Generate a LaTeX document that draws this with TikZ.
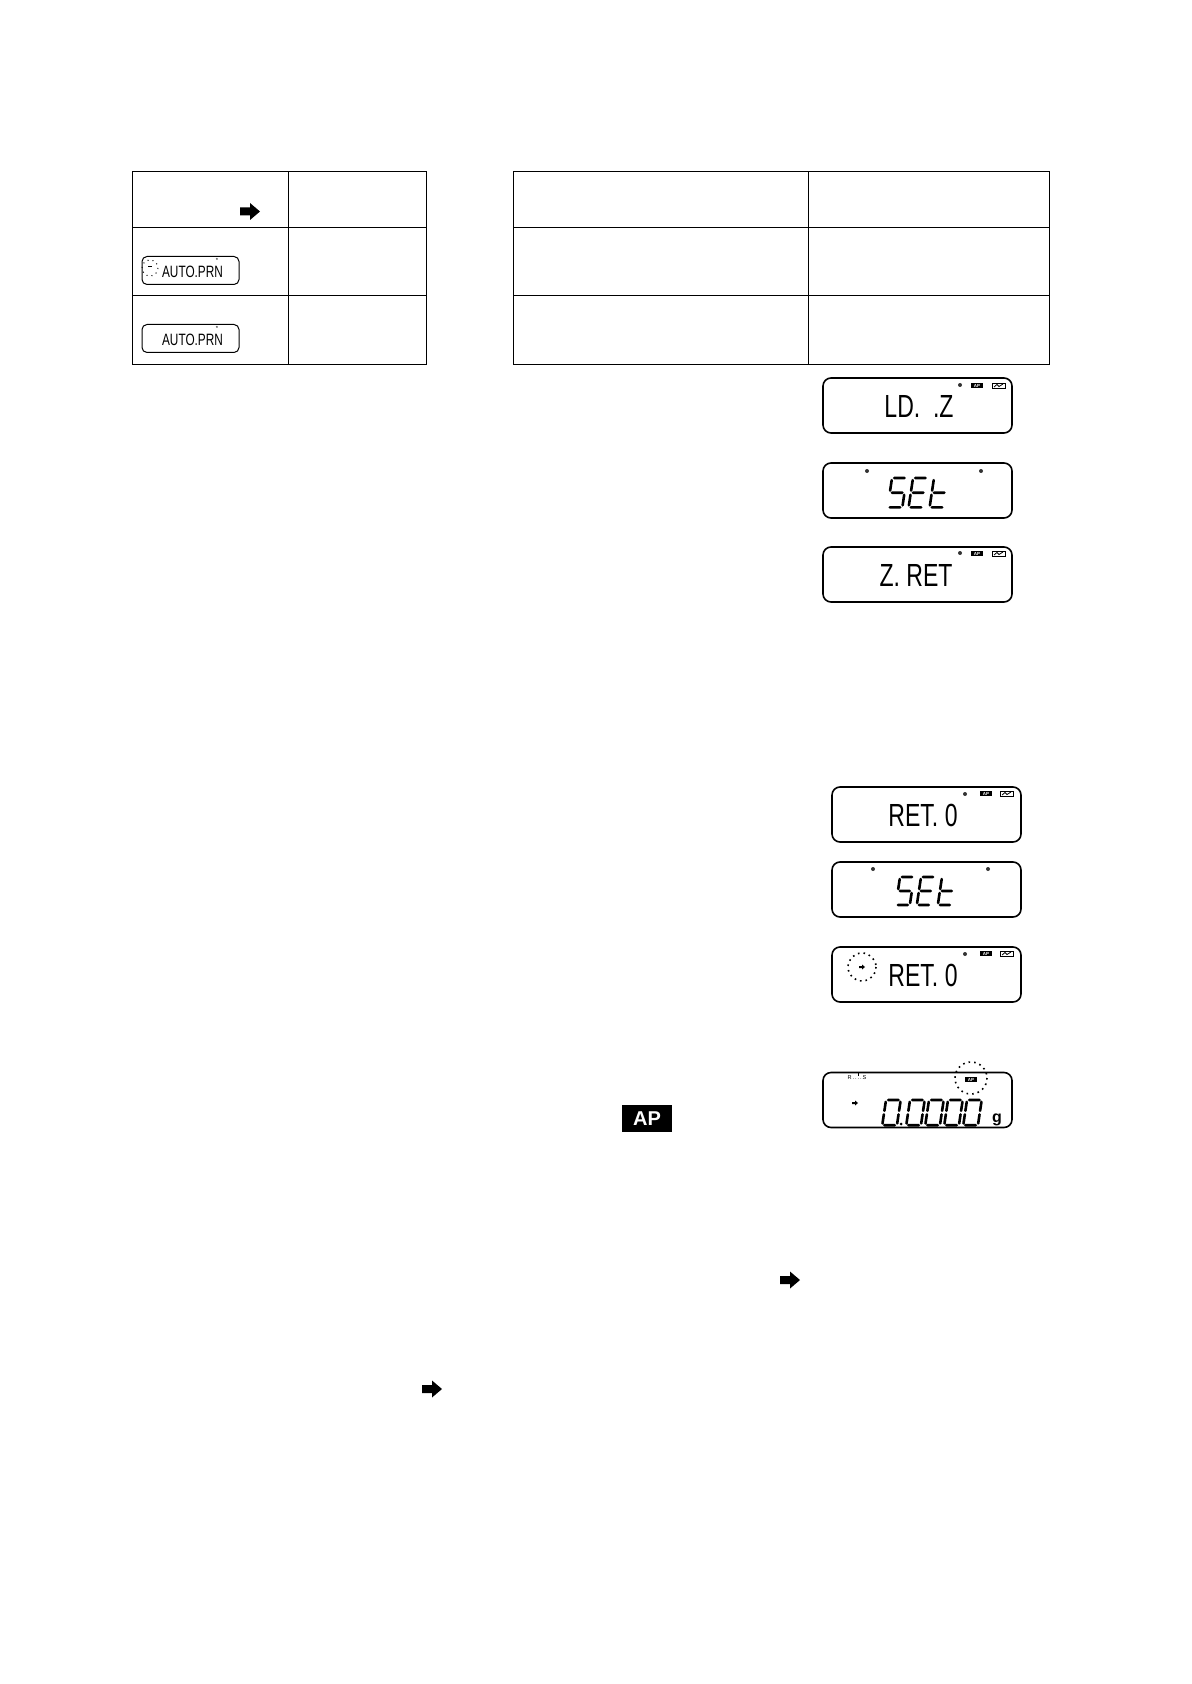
\documentclass[tikz,border=0pt]{standalone}
\usepackage{fontspec}
\setmainfont{Liberation Sans}
\newfontfamily\dispfont[FakeStretch=0.72]{Liberation Sans}
\tikzset{
  tline/.style={line width=0.5pt},
  lcd/.style={draw, rounded corners=4pt, line width=0.8pt, minimum width=94.5pt, minimum height=27.5pt, inner sep=0pt},
  smlcd/.style={draw, rounded corners=2.5pt, line width=0.5pt, minimum width=48.5pt, minimum height=14pt, inner sep=0pt},
  bigtxt/.style={font=\dispfont\fontsize{16}{16}\selectfont, inner sep=0pt},
  smtxt/.style={font=\dispfont\fontsize{8.2}{8.2}\selectfont, inner sep=0pt},
  segl/.style={line width=1.3pt, line cap=round},
  dotc/.style={dotted, line width=0.8pt},
  bigarrow/.pic={\fill (0,-4) -- (10,-4) -- (10,-8.5) -- (20,0) -- (10,8.5) -- (10,4) -- (0,4) -- cycle;},
  tinyarrow/.pic={\fill (-3,-1) -- (0,-1) -- (0,-2.5) -- (3,0) -- (0,2.5) -- (0,1) -- (-3,1) -- cycle;},
  apicon/.pic={\fill (0,0) rectangle (12,5); \node[text=white, font=\bfseries\fontsize{2.2}{2.2}\selectfont, inner sep=0pt] at (6,2.5) {AP};},
  trendicon/.pic={\draw[line width=0.3pt] (0,0) rectangle (13,5); \draw[line width=0.4pt] (2,4) -- (5,1.5) -- (7,3.5) -- (11,1);},
  doticon/.pic={\fill[black!80] (0,0) circle (2);}
}
% seven segment characters, W=14, H=28, origin top-left
\newcommand\chS[3]{\begin{scope}[shift={(#1,#2)},xslant=0.15,scale=#3]
  \draw[segl] (2,0)--(12,0) (0,2)--(0,12) (2,14)--(12,14) (14,16)--(14,26) (2,28)--(12,28);\end{scope}}
\newcommand\chE[3]{\begin{scope}[shift={(#1,#2)},xslant=0.15,scale=#3]
  \draw[segl] (2,0)--(12,0) (0,2)--(0,12) (2,14)--(12,14) (0,16)--(0,26) (2,28)--(12,28);\end{scope}}
\newcommand\chT[3]{\begin{scope}[shift={(#1,#2)},xslant=0.15,scale=#3]
  \draw[segl] (0,2)--(0,12) (2,14)--(12,14) (0,16)--(0,26) (2,28)--(12,28);\end{scope}}
\newcommand\chZ[3]{\begin{scope}[shift={(#1,#2)},xslant=0.15,xscale=1.05,yscale=#3]
  \draw[segl] (2,0)--(12,0) (14,2)--(14,12) (14,16)--(14,26) (2,28)--(12,28) (0,16)--(0,26) (0,2)--(0,12);\end{scope}}
\begin{document}
\begin{tikzpicture}[x=0.5pt,y=-0.5pt]
\useasboundingbox (0,0) rectangle (1191,1684);
% ---------- left table
\draw[tline] (132,172) rectangle (426,365);
\draw[tline] (288,172) -- (288,365);
\draw[tline] (132,228) -- (426,228) (132,296) -- (426,296);
\pic at (240,211.5) {bigarrow};
\node[smlcd] (a1) at (190.5,270.5) {};
\node[smtxt] (a1t) at (192.5,272) {AUTO.PRN};
\draw[dotc, line width=0.5pt] (150,268) circle (8);
\draw[line width=0.6pt] (148,266.5) -- (152,266.5);
\node[font=\fontsize{3}{3}\selectfont, inner sep=0pt] (a1m) at (217,260) {*};
\node[smlcd] (a2) at (190.5,338.5) {};
\node[smtxt] (a2t) at (192.5,340) {AUTO.PRN};
\node[font=\fontsize{3}{3}\selectfont, inner sep=0pt] (a2m) at (217,328) {*};
% ---------- right table
\draw[tline] (513,172) rectangle (1049,365);
\draw[tline] (808,172) -- (808,365);
\draw[tline] (513,228) -- (1049,228) (513,296) -- (1049,296);
% ---------- group 1 displays
\node[lcd] (d1) at (917.5,405.5) {};
\node[bigtxt] (d1t) at (919,406) {LD.\ \ .Z};
\pic at (960,385) {doticon};
\pic at (971,383) {apicon};
\pic at (992,383) {trendicon};
\node[lcd] (d2) at (917.5,490.5) {};
\chS{892}{478}{1.05}
\chE{913}{478}{1.05}
\chT{934}{478}{1.05}
\pic at (867,471) {doticon};
\pic at (981,471) {doticon};
\node[lcd] (d3) at (917.5,574.5) {};
\node[bigtxt] (d3t) at (916,575) {Z. RET};
\pic at (960,553) {doticon};
\pic at (971,551) {apicon};
\pic at (992,551) {trendicon};
% ---------- group 2 displays
\node[lcd] (e1) at (926.5,814.5) {};
\node[bigtxt] (e1t) at (923,815) {RET. 0};
\pic at (965,794) {doticon};
\pic at (980,791) {apicon};
\pic at (1000,791) {trendicon};
\node[lcd] (e2) at (926.5,889.5) {};
\chS{900}{877}{1.0}
\chE{921}{877}{1.0}
\chT{942}{877}{1.0}
\pic at (873,869) {doticon};
\pic at (988,869) {doticon};
\node[lcd] (e3) at (926.5,974.5) {};
\node[bigtxt] (e3t) at (923,975) {RET. 0};
\draw[dotc] (862,967) circle (14);
\pic at (862,967) {tinyarrow};
\pic at (965,954) {doticon};
\pic at (980,951) {apicon};
\pic at (1000,951) {trendicon};
% ---------- weighing display
\node[lcd] (w1) at (917.5,1100) {};
\pic at (855,1103) {tinyarrow};
\node[font=\fontsize{2.8}{2.8}\selectfont, inner sep=0pt] (w1r) at (857,1078) {R\,.\,.\,.\,.\,S};
\draw[line width=0.4pt] (858,1072) -- (858,1076);
\draw[line width=0.4pt] (856,1072) -- (860,1072);
\chZ{886}{1100}{0.9}
\fill (901,1124) circle (1.5);
\chZ{910}{1100}{0.9}
\chZ{929}{1100}{0.9}
\chZ{948}{1100}{0.9}
\chZ{967}{1100}{0.9}
\node[font=\bfseries\fontsize{8}{8}\selectfont, inner sep=0pt] (w1g) at (997,1120) {g};
\pic at (965,1077) {apicon};
\draw[dotc] (971,1078) circle (16);
% ---------- loose symbols
\node[fill=black, text=white, font=\bfseries\fontsize{10}{10}\selectfont, minimum width=25pt, minimum height=13.5pt, inner sep=0pt] (ap) at (647,1118.5) {AP};
\pic at (780,1280) {bigarrow};
\pic at (422,1389) {bigarrow};
\end{tikzpicture}
\end{document}
